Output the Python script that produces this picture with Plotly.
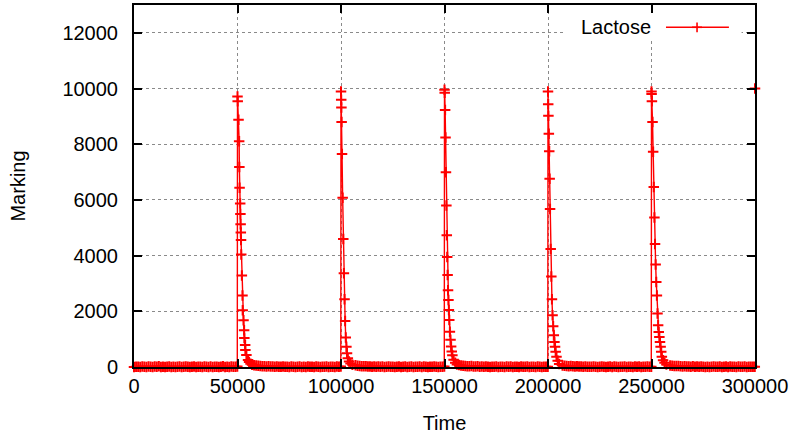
import plotly.graph_objects as go

# ---------------- data ----------------
series_name = "Lactose"

# regular baseline samples (time step 1000), values near zero
base_t0 = 0
base_step = 1000
base_v = [
    0, 12, 5, 0, 18, 7, 3, 22, 9, 0, 14, 6, 25, 2, 11, 0, 8, 19, 4, 13, 0, 7, 16, 3, 10,
    21, 5, 0, 9, 15, 2, 12, 6, 0, 17, 8, 4, 20, 1, 10, 13, 0, 6, 24, 3, 9, 0, 15, 7, 11,
    0, 0, 0, 0, 0, 0, 0, 0, 65, 50, 42, 35, 30, 26, 20, 28, 15, 22, 10, 17, 12, 5, 19, 8, 13,
    3, 15, 6, 0, 11, 20, 4, 9, 0, 16, 7, 12, 2, 18, 5, 0, 13, 8, 21, 1, 10, 6, 0, 14, 9,
    0, 0, 0, 0, 0, 0, 0, 60, 45, 38, 30, 24, 28, 18, 22, 12, 16, 9, 20, 6, 14, 3, 11, 17, 5,
    12, 0, 8, 19, 4, 10, 15, 2, 7, 22, 0, 11, 6, 14, 3, 18, 9, 0, 13, 5, 20, 8, 1, 12, 6,
    0, 0, 0, 0, 0, 0, 0, 70, 55, 44, 36, 30, 25, 32, 20, 16, 24, 12, 18, 8, 15, 10, 4, 13, 7,
    17, 2, 11, 6, 0, 14, 9, 21, 3, 8, 12, 0, 16, 5, 10, 19, 1, 7, 13, 4, 22, 9, 0, 11, 6,
    0, 0, 0, 0, 0, 0, 75, 55, 46, 38, 30, 34, 24, 20, 27, 15, 18, 10, 22, 8, 13, 5, 16, 9, 3,
    12, 18, 6, 0, 10, 15, 4, 20, 8, 1, 13, 7, 17, 2, 11, 5, 0, 14, 9, 19, 3, 12, 6, 16, 8,
    0, 0, 0, 0, 0, 0, 0, 0, 70, 58, 48, 40, 33, 36, 26, 22, 28, 17, 20, 12, 24, 9, 15, 6, 18,
    10, 4, 13, 0, 8, 21, 5, 11, 16, 2, 9, 14, 0, 19, 7, 12, 3, 17, 6, 10, 15, 1, 8, 13, 5,
]

# lactose pulses: start times, offsets from start and values
spike_times = [50000, 100000, 150000, 200000, 250000, 300000]
spike1_dt = [-100, 0, 100, 500, 800, 900, 1000, 1300, 1400, 1500, 1600, 1700, 1800, 2100, 2400, 2500,
             2900, 3200, 3300, 3700, 3800, 4300, 5100, 5600, 6300, 7000]
spike1_v = [15, 9710, 9540, 8880, 8110, 7180, 6440, 5870, 5490, 5130, 4830, 4560, 4040, 3290, 2570, 2040,
            1680, 1320, 1040, 790, 610, 430, 250, 180, 120, 80]
spike2_dt = [-100, 0, 100, 200, 300, 500, 800, 1100, 1400, 1700, 2000, 2300, 2600, 2900, 3300, 3900, 4600, 5500]
spike2_v = [15, 9890, 9600, 9320, 8800, 7650, 6080, 4600, 3370, 2430, 1650, 1060, 730, 490, 310, 200, 130, 80]
spike3_dt = [-100, 0, 100, 300, 500, 700, 900, 1100, 1300, 1500, 1700, 1900, 2100, 2300, 2600, 2900, 3200,
             3500, 3800, 4400, 5200, 6000]
spike3_v = [20, 9960, 9850, 9230, 8240, 6990, 5800, 4730, 3950, 3300, 2760, 2410, 2050, 1690, 1270, 980, 740,
            560, 420, 260, 150, 90]
spike4_dt = [-100, 0, 100, 200, 400, 600, 800, 1000, 1300, 1600, 1900, 2200, 2500, 2800, 3100, 3400, 3700,
             4100, 4700, 5400]
spike4_v = [10, 9890, 9440, 9020, 8380, 7750, 6760, 5670, 4240, 3250, 2430, 1860, 1460, 1140, 900, 730, 550,
            370, 220, 110]
spike5_dt = [-100, 0, 50, 200, 500, 800, 1100, 1400, 1700, 2000, 2300, 2600, 2900, 3200, 3500, 3800, 4100,
             4400, 4700, 5000, 5600, 6300, 7200]
spike5_v = [10, 9890, 9800, 9540, 8800, 7730, 6460, 5370, 4420, 3680, 3050, 2570, 1920, 1500, 1260, 1080, 900,
            730, 550, 370, 240, 150, 90]
spike6_dt = [-100, 0]
spike6_v = [10, 10000]

x_ticks = [0, 50000, 100000, 150000, 200000, 250000, 300000]
y_ticks = [0, 2000, 4000, 6000, 8000, 10000, 12000]

# ---------------- assemble series ----------------
spikes_dt = [spike1_dt, spike2_dt, spike3_dt, spike4_dt, spike5_dt, spike6_dt]
spikes_v = [spike1_v, spike2_v, spike3_v, spike4_v, spike5_v, spike6_v]
windows = [(T + dts[0], T + dts[-1] + 1000) for T, dts in zip(spike_times, spikes_dt)]

pts = []
for i, v in enumerate(base_v):
    t = base_t0 + i * base_step
    if any(a < t < b for a, b in windows):
        continue
    pts.append((t, v))
for T, dts, vs in zip(spike_times, spikes_dt, spikes_v):
    for d, v in zip(dts, vs):
        pts.append((T + d, v))
pts.sort()
times = [p[0] for p in pts]
vals = [p[1] for p in pts]

RED = "#ff0000"
FONT = "Liberation Sans, Arial, Helvetica, sans-serif"

fig = go.Figure()
# connecting line; its last segment lies on the right border, where the
# reference's frame hides it, so the line stops at the last interior sample
fig.add_trace(go.Scatter(
    x=times[:-1], y=vals[:-1], mode="lines", name=series_name,
    line=dict(color=RED, width=1.4),
    cliponaxis=True, showlegend=False,
))
# point markers (gnuplot draws them even on the border)
fig.add_trace(go.Scatter(
    x=times, y=vals, mode="markers", name=series_name,
    marker=dict(symbol="cross-thin", size=7.5, line=dict(color=RED, width=2)),
    cliponaxis=False, showlegend=False,
))

# key (gnuplot style: label, then sample line with point)
key_y = 12200
fig.add_shape(type="rect", x0=208000, x1=293500, y0=11800, y1=12920,
              fillcolor="white", line=dict(width=0), layer="between")
fig.add_annotation(x=250700, y=key_y, xref="x", yref="y", text=series_name, showarrow=False,
                   xanchor="right", yanchor="middle", font=dict(family=FONT, size=20, color="black"))
fig.add_shape(type="line", x0=257000, x1=287400, y0=key_y, y1=key_y,
              line=dict(color=RED, width=1.6), layer="above")
fig.add_shape(type="line", x0=269600, x1=274400, y0=key_y, y1=key_y,
              line=dict(color=RED, width=1.6), layer="above")
fig.add_shape(type="line", x0=272000, x1=272000, y0=key_y - 175, y1=key_y + 175,
              line=dict(color=RED, width=1.6), layer="above")

axis_common = dict(
    showline=True, linecolor="black", linewidth=2, mirror="ticks",
    ticks="inside", ticklen=8, tickwidth=2, tickcolor="black",
    showgrid=True, gridcolor="#8a8a8a", gridwidth=1, griddash="dot",
    zeroline=False, tickfont=dict(family=FONT, size=20, color="black"),
)
fig.update_xaxes(range=[0, 300000], tickvals=x_ticks, ticktext=[str(v) for v in x_ticks],
                 title=dict(text="Time", font=dict(family=FONT, size=20, color="black"), standoff=20),
                 **axis_common)
fig.update_yaxes(range=[0, 13000], tickvals=y_ticks, ticktext=[str(v) for v in y_ticks],
                 title=dict(text="Marking", font=dict(family=FONT, size=20, color="black"), standoff=31),
                 ticklabelstandoff=10, **axis_common)

fig.update_layout(
    width=800, height=438,
    margin=dict(l=134, r=45, t=3, b=71),
    paper_bgcolor="white", plot_bgcolor="white",
    font=dict(family=FONT, size=20, color="black"),
)

fig.write_html("out.html")
